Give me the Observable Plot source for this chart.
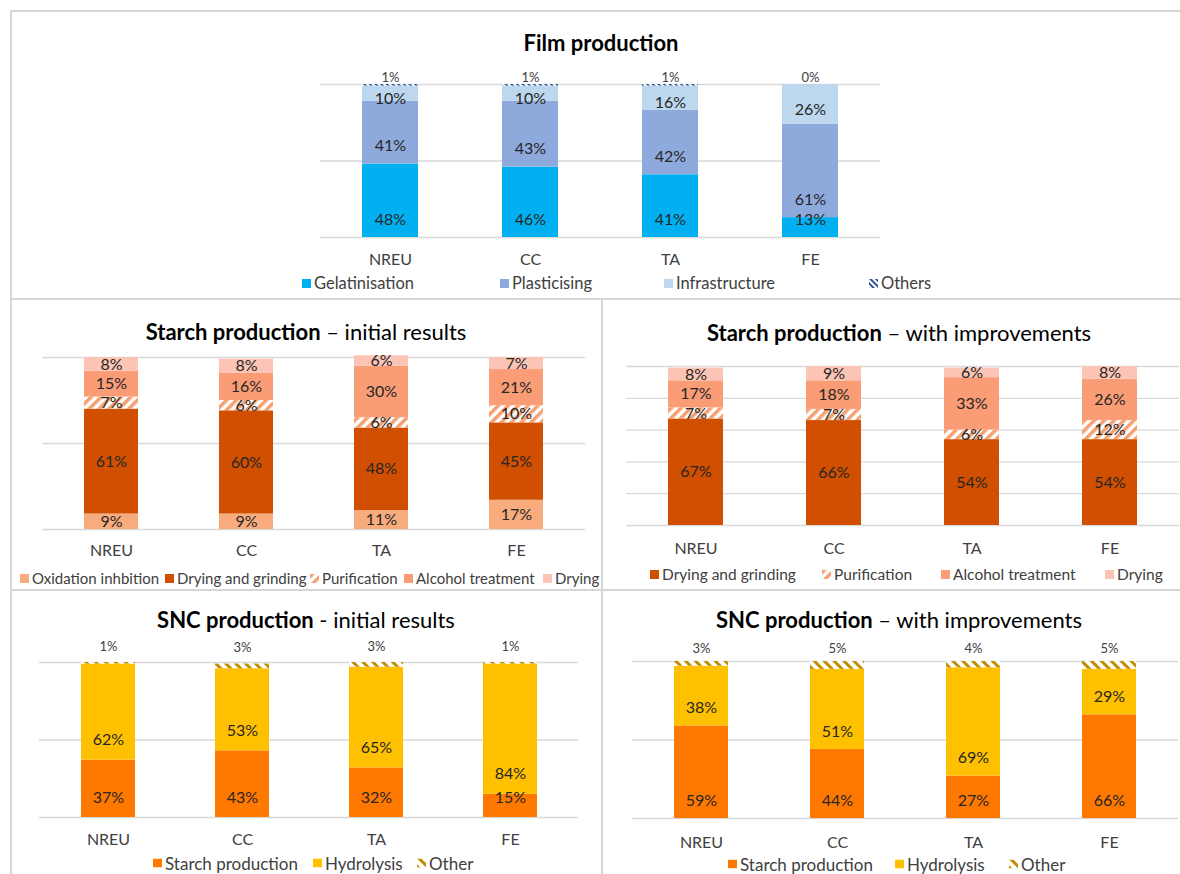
<!DOCTYPE html>
<html>
<head>
<meta charset="utf-8">
<script src="https://cdn.jsdelivr.net/npm/d3@7"></script>
<script src="https://cdn.jsdelivr.net/npm/@observablehq/plot@0.6"></script>
<style>
  body { margin: 0; background: #fff; font-family: Lato, "Open Sans", sans-serif; }
  #page { position: relative; width: 1180px; height: 874px; overflow: hidden; background: #fff; }
  .rule { position: absolute; background: #D6D6D6; }
  .title { position: absolute; transform: translate(-50%, -50%); white-space: nowrap; font-size: 22px; color: #000; }
  .title b { font-weight: 700; }
  .chart { position: absolute; }
  .chart svg { display: block; max-width: none; }
  .lg { position: absolute; display: flex; align-items: center; transform: translateY(-50%);
        color: #404040; white-space: nowrap; }
  .lg svg { margin-right: 3px; flex: none; }
</style>
</head>
<body>
<svg width="0" height="0" style="position:absolute">
  <defs>
    <pattern id="pat-film-others" patternUnits="userSpaceOnUse" width="4" height="4" patternTransform="rotate(-45)">
      <rect width="4" height="4" fill="#fff"/><rect width="2" height="4" fill="#2F5597"/>
    </pattern>
    <pattern id="pat-purification" patternUnits="userSpaceOnUse" width="7" height="7" patternTransform="rotate(45)">
      <rect width="7" height="7" fill="#fff"/><rect width="3.5" height="7" fill="#F5A070"/>
    </pattern>
    <pattern id="pat-snc-other" patternUnits="userSpaceOnUse" width="7" height="7" patternTransform="rotate(-45)">
      <rect width="7" height="7" fill="#fff"/><rect width="3" height="7" fill="#BF8F00"/>
    </pattern>
  </defs>
</svg>
<div id="page"></div>
<script>
// ---- categories (impact indicators) ----
const categories = ["NREU", "CC", "TA", "FE"];

// ---- Film production ----
const filmSeries = ["Gelatinisation", "Plasticising", "Infrastructure", "Others"];
const filmGelatinisation = [48, 46, 41, 13];
const filmPlasticising = [41, 43, 42, 61];
const filmInfrastructure = [10, 10, 16, 26];
const filmOthers = [1, 1, 1, 0];

// ---- Starch production, initial results ----
const starchInitSeries = ["Oxidation inhbition", "Drying and grinding", "Purification", "Alcohol treatment", "Drying"];
const starchInitOxidation = [9, 9, 11, 17];
const starchInitDryingGrinding = [61, 60, 48, 45];
const starchInitPurification = [7, 6, 6, 10];
const starchInitAlcohol = [15, 16, 30, 21];
const starchInitDrying = [8, 8, 6, 7];

// ---- Starch production, with improvements ----
const starchImpSeries = ["Drying and grinding", "Purification", "Alcohol treatment", "Drying"];
const starchImpDryingGrinding = [67, 66, 54, 54];
const starchImpPurification = [7, 7, 6, 12];
const starchImpAlcohol = [17, 18, 33, 26];
const starchImpDrying = [8, 9, 6, 8];

// ---- SNC production ----
const sncSeries = ["Starch production", "Hydrolysis", "Other"];
const sncInitStarch = [37, 43, 32, 15];
const sncInitHydrolysis = [62, 53, 65, 84];
const sncInitOther = [1, 3, 3, 1];
const sncImpStarch = [59, 44, 27, 66];
const sncImpHydrolysis = [38, 51, 69, 29];
const sncImpOther = [3, 5, 4, 5];

// ---- fills ----
const fill = {
  "Gelatinisation": "#00B0F0",
  "Plasticising": "#8EA9DB",
  "Infrastructure": "#BDD7EE",
  "Others": "url(#pat-film-others)",
  "Oxidation inhbition": "#F8AC7E",
  "Drying and grinding": "#D04F00",
  "Purification": "url(#pat-purification)",
  "Alcohol treatment": "#FA9C76",
  "Drying": "#FBC4B5",
  "Starch production": "#FF7800",
  "Hydrolysis": "#FFC000",
  "Other": "url(#pat-snc-other)"
};

const page = document.getElementById("page");

// panel separators
[[10, 10, 1170, 2], [10, 10, 2, 864], [10, 298, 1170, 2], [601, 298, 2, 576], [10, 589, 1170, 2]]
  .forEach(([l, t, w, h]) => {
    const d = document.createElement("div");
    d.className = "rule";
    Object.assign(d.style, {left: l + "px", top: t + "px", width: w + "px", height: h + "px"});
    page.appendChild(d);
  });

function addTitle(bold, rest, x, y) {
  const d = document.createElement("div");
  d.className = "title";
  d.style.left = x + "px";
  d.style.top = y + "px";
  const b = document.createElement("b");
  b.textContent = bold;
  d.appendChild(b);
  if (rest) d.appendChild(document.createTextNode(rest));
  page.appendChild(d);
}

function addLegend(series, xs, y, size) {
  series.forEach((s, i) => {
    const item = document.createElement("div");
    item.className = "lg";
    item.style.left = xs[i] + "px";
    item.style.top = y + "px";
    item.style.fontSize = size + "px";
    const sw = d3.create("svg").attr("width", 9).attr("height", 9);
    sw.append("rect").attr("width", 9).attr("height", 9).attr("fill", fill[s]);
    item.appendChild(sw.node());
    item.appendChild(document.createTextNode(s));
    page.appendChild(item);
  });
}

// cumulative bottoms and tops for each stacked segment
function stackRows(series, values) {
  const rows = [];
  categories.forEach((cat, i) => {
    let acc = 0;
    series.forEach((s, k) => {
      const v = values[k][i];
      rows.push({cat, series: s, value: v, lo: acc, hi: acc + v});
      acc += v;
    });
  });
  return rows;
}

function addChart(cfg) {
  const rows = stackRows(cfg.series, cfg.values);
  const marks = [
    Plot.gridY(cfg.grid, {stroke: "#D9D9D9", strokeOpacity: 1, strokeWidth: 1.3}),
    Plot.barY(rows, {x: "cat", y1: "lo", y2: "hi", fill: "series"})
  ];
  for (const g of cfg.labels) {
    const sub = rows.filter(r => g.series.includes(r.series));
    const pos = g.at === "lo" ? r => r.lo : g.at === "hi" ? r => r.hi : r => (r.lo + r.hi) / 2;
    marks.push(Plot.text(sub, {
      x: "cat", y: pos, text: r => r.value + "%",
      dy: g.dy, fontSize: g.fontSize || 16, fill: g.fill || "#262626"
    }));
  }
  marks.push(Plot.axisX({tickSize: 0, tickPadding: cfg.tickPadding, fontSize: 16}));
  const svg = Plot.plot({
    width: cfg.width, height: cfg.height,
    marginLeft: cfg.m[0], marginRight: cfg.m[1], marginTop: cfg.m[2], marginBottom: cfg.m[3],
    style: {fontFamily: "Lato, sans-serif", fontSize: "16px", color: "#404040", background: "transparent", overflow: "visible"},
    x: {domain: categories, paddingInner: 0.6, paddingOuter: 0.3, label: null},
    y: {domain: [0, 100], axis: null},
    color: {domain: cfg.series, range: cfg.series.map(s => fill[s])},
    marks
  });
  const holder = document.createElement("div");
  holder.className = "chart";
  Object.assign(holder.style, {left: cfg.left + "px", top: cfg.top + "px", width: cfg.width + "px", height: cfg.height + "px"});
  holder.appendChild(svg);
  page.appendChild(holder);
}

// ---- Film production ----
addTitle("Film production", "", 601, 42);
addChart({
  series: filmSeries,
  values: [filmGelatinisation, filmPlasticising, filmInfrastructure, filmOthers],
  left: 0, top: 55, width: 1180, height: 220, m: [320, 300, 29, 38],
  grid: [0, 50, 100], tickPadding: 16,
  labels: [
    {series: ["Gelatinisation", "Plasticising"], at: "lo", dy: -18},
    {series: ["Infrastructure"], at: "mid", dy: 5},
    {series: ["Others"], at: "hi", dy: -7, fontSize: 13, fill: "#404040"}
  ]
});
addLegend(filmSeries, [302, 500, 664, 869], 283, 16.5);

// ---- Starch production – initial results ----
addTitle("Starch production", " – initial results", 306, 331);
addChart({
  series: starchInitSeries,
  values: [starchInitOxidation, starchInitDryingGrinding, starchInitPurification, starchInitAlcohol, starchInitDrying],
  left: 12, top: 345, width: 589, height: 220, m: [30, 16, 12, 36],
  grid: [0, 50, 100], tickPadding: 15,
  labels: [{series: starchInitSeries, at: "mid", dy: 0}]
});
addLegend(starchInitSeries, [20, 165, 310, 404, 543], 578, 15);

// ---- Starch production – with improvements ----
addTitle("Starch production", " – with improvements", 899, 332);
addChart({
  series: starchImpSeries,
  values: [starchImpDryingGrinding, starchImpPurification, starchImpAlcohol, starchImpDrying],
  left: 603, top: 345, width: 577, height: 220, m: [23, 1, 21, 40],
  grid: [0, 20, 40, 60, 80, 100], tickPadding: 17,
  labels: [{series: starchImpSeries, at: "mid", dy: 0}]
});
addLegend(starchImpSeries, [650, 822, 941, 1105], 574, 15.5);

// ---- SNC production - initial results ----
addTitle("SNC production", " - initial results", 306, 619);
addChart({
  series: sncSeries,
  values: [sncInitStarch, sncInitHydrolysis, sncInitOther],
  left: 12, top: 630, width: 589, height: 215, m: [27, 23, 32, 28],
  grid: [0, 50, 100], tickPadding: 16,
  labels: [
    {series: ["Starch production", "Hydrolysis"], at: "lo", dy: -20},
    {series: ["Other"], at: "hi", dy: -16, fontSize: 13, fill: "#404040"}
  ]
});
addLegend(sncSeries, [153, 313, 417], 863, 17);

// ---- SNC production – with improvements ----
addTitle("SNC production", " – with improvements", 899, 619);
addChart({
  series: sncSeries,
  values: [sncImpStarch, sncImpHydrolysis, sncImpOther],
  left: 603, top: 630, width: 577, height: 215, m: [29, 2, 31, 27],
  grid: [0, 50, 100], tickPadding: 18,
  labels: [
    {series: ["Starch production", "Hydrolysis"], at: "lo", dy: -18},
    {series: ["Other"], at: "hi", dy: -13, fontSize: 13, fill: "#404040"}
  ]
});
addLegend(sncSeries, [728, 895, 1009], 864, 17);
</script>
</body>
</html>
